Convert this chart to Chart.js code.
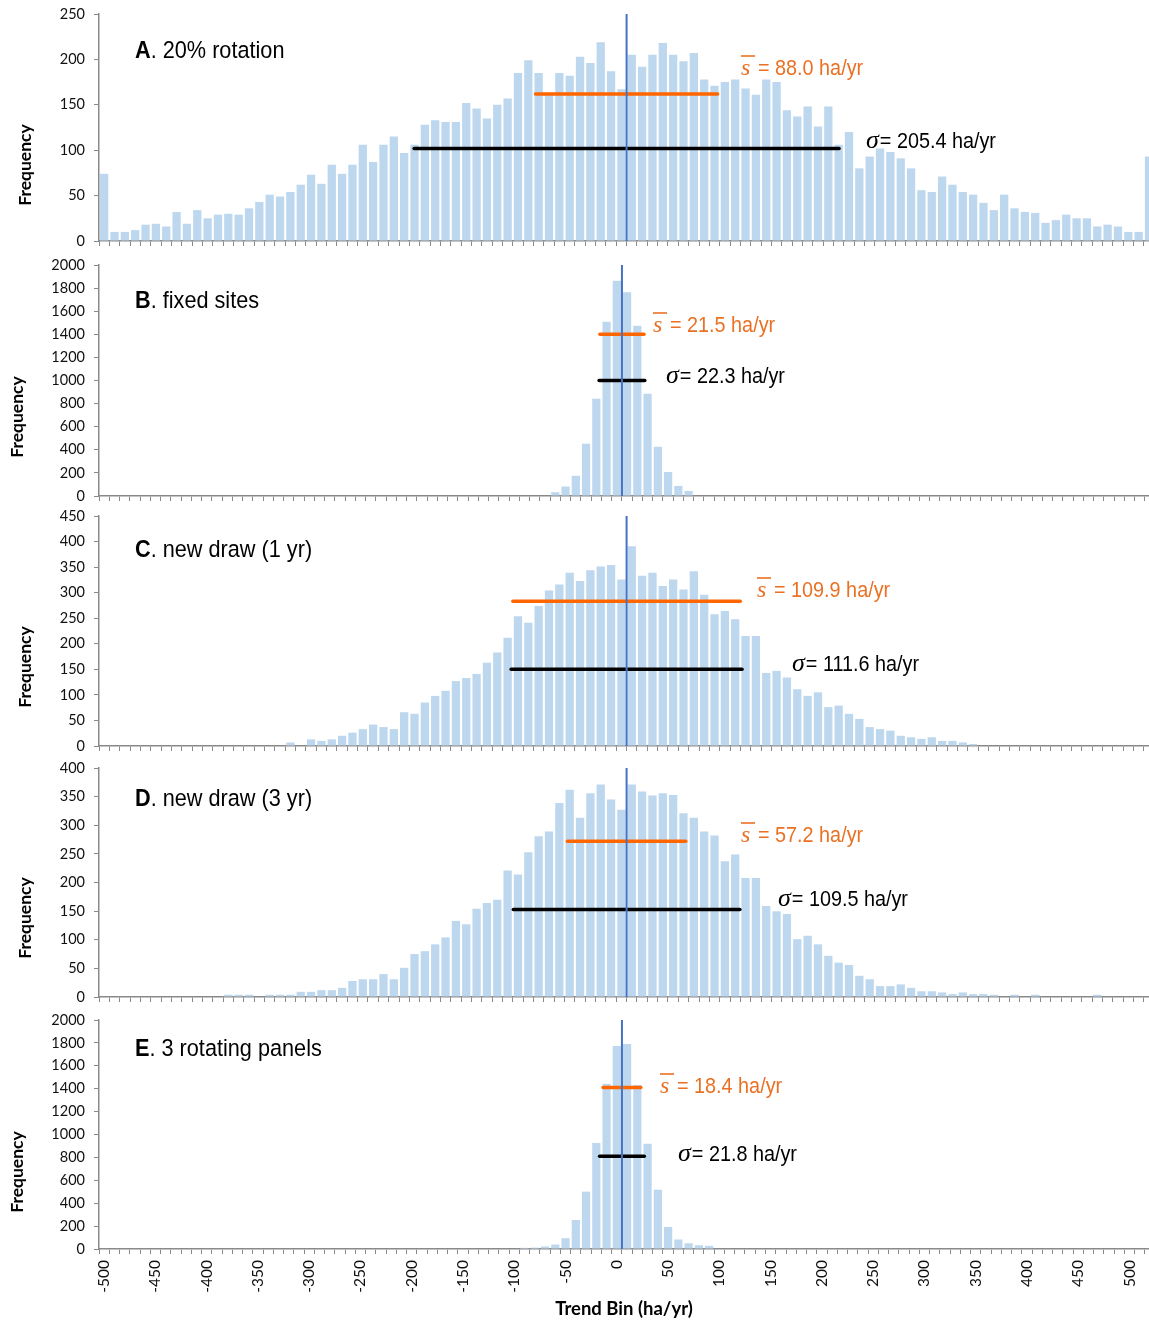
<!DOCTYPE html>
<html>
<head>
<meta charset="utf-8">
<title>Trend bin histograms</title>
<script src="https://cdn.jsdelivr.net/npm/chart.js@4.4.1/dist/chart.umd.min.js"></script>
<style>
  html, body { margin: 0; padding: 0; background: #fff; overflow: hidden; }
  body { position: relative; width: 1149px; height: 1321px; }
  .panel { position: absolute; left: 0; }
  .panel canvas { display: block; }
</style>
</head>
<body>
<script>
// upper limit of each 10 ha/yr trend bin
const binLimits = [
  -500, -490, -480, -470, -460, -450, -440, -430, -420, -410,
  -400, -390, -380, -370, -360, -350, -340, -330, -320, -310,
  -300, -290, -280, -270, -260, -250, -240, -230, -220, -210,
  -200, -190, -180, -170, -160, -150, -140, -130, -120, -110,
  -100, -90, -80, -70, -60, -50, -40, -30, -20, -10,
  0, 10, 20, 30, 40, 50, 60, 70, 80, 90,
  100, 110, 120, 130, 140, 150, 160, 170, 180, 190,
  200, 210, 220, 230, 240, 250, 260, 270, 280, 290,
  300, 310, 320, 330, 340, 350, 360, 370, 380, 390,
  400, 410, 420, 430, 440, 450, 460, 470, 480, 490,
  500, 510
];

// A. 20% rotation
const freqRotation = [
  74, 10, 10, 12, 18, 19, 16, 32, 19, 34,
  25, 29, 30, 29, 36, 43, 51, 49, 54, 62,
  73, 63, 84, 74, 84, 106, 87, 106, 115, 97,
  106, 128, 133, 131, 131, 152, 146, 135, 150, 157,
  185, 199, 185, 162, 185, 182, 203, 196, 219, 187,
  167, 205, 192, 205, 218, 205, 198, 207, 178, 171,
  175, 178, 168, 161, 178, 175, 144, 137, 148, 126,
  148, 106, 120, 80, 93, 102, 98, 91, 80, 56,
  54, 71, 62, 54, 51, 42, 34, 51, 36, 32,
  31, 20, 23, 29, 25, 25, 16, 18, 16, 10,
  10, 93
];

// B. fixed sites
const freqFixed = [
  0, 0, 0, 0, 0, 0, 0, 0, 0, 0,
  0, 0, 0, 0, 0, 0, 0, 0, 0, 0,
  0, 0, 0, 0, 0, 0, 0, 0, 0, 0,
  0, 0, 0, 0, 0, 0, 0, 0, 0, 0,
  0, 0, 0, 0, 33, 82, 175, 453, 841, 1508,
  1863, 1765, 1475, 885, 426, 208, 87, 44, 0, 0,
  0, 0, 0, 0, 0, 0, 0, 0, 0, 0,
  0, 0, 0, 0, 0, 0, 0, 0, 0, 0,
  0, 0, 0, 0, 0, 0, 0, 0, 0, 0,
  0, 0, 0, 0, 0, 0, 0, 0, 0, 0,
  0, 0
];

// C. new draw (1 yr)
const freqNew1 = [
  0, 0, 0, 0, 0, 0, 0, 0, 0, 0,
  0, 0, 0, 0, 0, 0, 0, 0, 7, 0,
  13, 10, 13, 20, 26, 33, 42, 37, 33, 66,
  63, 85, 98, 108, 127, 133, 141, 163, 183, 212,
  254, 241, 274, 304, 316, 339, 323, 344, 351, 354,
  326, 391, 333, 339, 313, 326, 306, 342, 296, 258,
  264, 248, 215, 215, 143, 147, 134, 111, 98, 105,
  76, 79, 63, 53, 37, 33, 30, 20, 17, 14,
  17, 10, 10, 7, 4, 0, 0, 0, 0, 0,
  0, 0, 0, 0, 0, 0, 0, 0, 0, 0,
  0, 0
];

// D. new draw (3 yr)
const freqNew3 = [
  0, 0, 0, 0, 0, 0, 0, 0, 0, 0,
  0, 0, 4, 4, 4, 0, 4, 4, 4, 9,
  9, 12, 12, 16, 28, 31, 31, 40, 31, 51,
  75, 80, 92, 104, 133, 127, 154, 164, 170, 221,
  214, 253, 281, 289, 339, 362, 313, 356, 371, 345,
  327, 371, 359, 352, 356, 353, 321, 313, 289, 282,
  237, 249, 208, 208, 159, 150, 145, 101, 107, 92,
  72, 60, 56, 37, 31, 19, 19, 22, 16, 10,
  10, 8, 5, 8, 5, 5, 4, 0, 4, 0,
  4, 0, 0, 0, 0, 0, 4, 0, 0, 0,
  0, 0
];

// E. 3 rotating panels
const freqPanels = [
  0, 0, 0, 0, 0, 0, 0, 0, 0, 0,
  0, 0, 0, 0, 0, 0, 0, 0, 0, 0,
  0, 0, 0, 0, 0, 0, 0, 0, 0, 0,
  0, 0, 0, 0, 0, 0, 0, 0, 0, 0,
  0, 10, 12, 22, 39, 94, 253, 501, 926, 1444,
  1774, 1791, 1433, 920, 518, 193, 83, 50, 33, 28,
  0, 0, 0, 0, 0, 0, 0, 0, 0, 0,
  0, 0, 0, 0, 0, 0, 0, 0, 0, 0,
  0, 0, 0, 0, 0, 0, 0, 0, 0, 0,
  0, 0, 0, 0, 0, 0, 0, 0, 0, 0,
  0, 0
];

const panelLetters = ['A', 'B', 'C', 'D', 'E'];
const panelCaptions = ['20% rotation', 'fixed sites', 'new draw (1 yr)', 'new draw (3 yr)', '3 rotating panels'];
const panelSeries = [freqRotation, freqFixed, freqNew1, freqNew3, freqPanels];

// mean sampling error (s-bar) and standard deviation, ha/yr
const meanError = [88.0, 21.5, 109.9, 57.2, 18.4];
const sigmaValues = [205.4, 22.3, 111.6, 109.5, 21.8];
// frequency level at which each span is drawn
const meanLevel = [162, 1400, 283, 272, 1410];
const sigmaLevel = [102, 1000, 150, 153, 810];

const yMaxValues = [250, 2000, 450, 400, 2000];
const yStepValues = [50, 200, 50, 50, 200];

// page geometry for each panel
const layout = [
  { plotTop: 14,   plotBottom: 241,  xMax: 505, titleY: 49,   meanX: 741, meanY: 67,   sigmaX: 866, sigmaY: 139.5, freqX: 25, freqY: 165 },
  { plotTop: 265,  plotBottom: 496,  xMax: 514, titleY: 299,  meanX: 653, meanY: 324,  sigmaX: 666, sigmaY: 375,   freqX: 17, freqY: 417 },
  { plotTop: 516,  plotBottom: 746,  xMax: 505, titleY: 548,  meanX: 757, meanY: 589,  sigmaX: 792, sigmaY: 663,   freqX: 25, freqY: 667 },
  { plotTop: 768,  plotBottom: 997,  xMax: 505, titleY: 797,  meanX: 741, meanY: 834,  sigmaX: 778, sigmaY: 898,   freqX: 25, freqY: 918 },
  { plotTop: 1020, plotBottom: 1249, xMax: 514, titleY: 1047, meanX: 660, meanY: 1085, sigmaX: 678, sigmaY: 1153,  freqX: 17, freqY: 1172 }
];

const PAGE_W = 1149, PAGE_H = 1321;
const BAR_COLOR = '#BDD7EE';
const ZERO_COLOR = '#4472C4';
const MEAN_COLOR = '#FF6600';
const MEAN_TEXT = '#EA7124';
const AXIS_COLOR = '#898989';
const NARROW = '"Liberation Sans", Arial, sans-serif';
const SERIF = '"Liberation Serif", "Times New Roman", serif';

Chart.defaults.font.family = 'Lato, "Open Sans", sans-serif';
Chart.defaults.color = '#111';

// sans text squeezed horizontally, like a narrow face
function drawNarrow(ctx, parts, x, y, size, sx, color) {
  ctx.save();
  ctx.translate(x, y);
  ctx.scale(sx, 1);
  ctx.fillStyle = color;
  ctx.textAlign = 'left';
  ctx.textBaseline = 'alphabetic';
  let cx = 0;
  parts.forEach(p => {
    ctx.font = (p.bold ? 'bold ' : '') + size + 'px ' + NARROW;
    ctx.fillText(p.text, cx, 0);
    cx += ctx.measureText(p.text).width;
  });
  ctx.restore();
}

function drawStat(ctx, symbol, value, x, yMid, color, overline) {
  const base = yMid + 8;
  ctx.save();
  ctx.fillStyle = color;
  ctx.strokeStyle = color;
  ctx.font = 'italic ' + (overline ? 24 : 26) + 'px ' + SERIF;
  ctx.textAlign = 'left';
  ctx.textBaseline = 'alphabetic';
  ctx.fillText(symbol, x, base);
  const w = ctx.measureText(symbol).width;
  if (overline) {
    ctx.lineWidth = 1.6;
    ctx.beginPath();
    ctx.moveTo(x, base - 19);
    ctx.lineTo(x + 14, base - 19);
    ctx.stroke();
  }
  ctx.restore();
  if (overline) {
    drawNarrow(ctx, [{ text: '= ' + value.toFixed(1) + ' ha/yr' }], x + 17, base, 22, 0.9, color);
  } else {
    drawNarrow(ctx, [{ text: '= ' + value.toFixed(1) + ' ha/yr' }], x + w + 1, base, 22, 0.9, color);
  }
}

const panelText = {
  id: 'panelText',
  afterDraw(chart, args, o) {
    const ctx = chart.ctx;
    const t = o.canvasTop;
    ctx.save();
    ctx.translate(o.freqX, o.freqY - t);
    ctx.rotate(-Math.PI / 2);
    ctx.font = 'bold 17.5px Lato, sans-serif';
    ctx.fillStyle = '#000';
    ctx.textAlign = 'center';
    ctx.textBaseline = 'middle';
    ctx.fillText('Frequency', 0, 0);
    ctx.restore();

    drawNarrow(ctx, [{ text: o.letter, bold: true }, { text: '. ' + o.caption }], 135, o.titleY - t + 9, 24.5, 0.885, '#000');
    drawStat(ctx, 's', o.mean, o.meanX, o.meanY - t, MEAN_TEXT, true);
    drawStat(ctx, '\u03C3', o.sigma, o.sigmaX, o.sigmaY - t, '#000', false);
  }
};

const binCenters = binLimits.map(b => b - 5);

layout.forEach((g, i) => {
  const last = i === layout.length - 1;
  const canvasTop = g.plotTop - 14;
  const xAxisH = last ? PAGE_H - g.plotBottom : 12;
  const canvasH = g.plotBottom - canvasTop + xAxisH;

  const div = document.createElement('div');
  div.className = 'panel';
  div.style.top = canvasTop + 'px';
  const canvas = document.createElement('canvas');
  canvas.width = PAGE_W;
  canvas.height = canvasH;
  div.appendChild(canvas);
  document.body.appendChild(div);

  const series = panelSeries[i];
  const yMax = yMaxValues[i];

  new Chart(canvas.getContext('2d'), {
    type: 'bar',
    data: {
      datasets: [
        {
          type: 'line',
          data: [{ x: 0, y: 0 }, { x: 0, y: yMax }],
          borderColor: ZERO_COLOR,
          borderWidth: 2,
          pointRadius: 0,
          order: 0
        },
        {
          type: 'line',
          data: [{ x: -meanError[i], y: meanLevel[i] }, { x: meanError[i], y: meanLevel[i] }],
          borderColor: MEAN_COLOR,
          borderWidth: 3.5,
          borderCapStyle: 'round',
          pointRadius: 0,
          order: 1
        },
        {
          type: 'line',
          data: [{ x: -sigmaValues[i], y: sigmaLevel[i] }, { x: sigmaValues[i], y: sigmaLevel[i] }],
          borderColor: '#000',
          borderWidth: 3.5,
          borderCapStyle: 'round',
          pointRadius: 0,
          order: 1
        },
        {
          data: binCenters.map((c, k) => ({ x: c, y: series[k] })),
          backgroundColor: BAR_COLOR,
          barPercentage: 0.8,
          categoryPercentage: 1.0,
          order: 2
        }
      ]
    },
    options: {
      responsive: false,
      animation: false,
      events: [],
      layout: { padding: { top: 14, left: 0, right: 0, bottom: 0 } },
      plugins: {
        legend: { display: false },
        tooltip: { enabled: false },
        panelText: {
          canvasTop: canvasTop,
          letter: panelLetters[i],
          caption: panelCaptions[i],
          mean: meanError[i],
          sigma: sigmaValues[i],
          meanX: g.meanX, meanY: g.meanY,
          sigmaX: g.sigmaX, sigmaY: g.sigmaY,
          freqX: g.freqX, freqY: g.freqY,
          titleY: g.titleY
        }
      },
      scales: {
        x: {
          type: 'linear',
          min: -510,
          max: g.xMax,
          bounds: 'data',
          offset: false,
          grid: {
            offset: true,
            drawOnChartArea: false,
            drawTicks: true,
            tickLength: 5,
            color: AXIS_COLOR,
            lineWidth: 1
          },
          border: { display: true, color: AXIS_COLOR, width: 1.5 },
          afterBuildTicks: scale => {
            scale.ticks = binCenters.filter(v => v <= scale.max).map(v => ({ value: v }));
          },
          afterFit: scale => {
            scale.height = xAxisH;
            scale.paddingLeft = 0;
            scale.paddingRight = 0;
          },
          ticks: {
            display: last,
            autoSkip: false,
            minRotation: 90,
            maxRotation: 90,
            padding: 6,
            font: { size: 15.5 },
            color: '#111',
            callback: v => ((v + 5) % 50 === 0 ? String(v + 5) : '')
          },
          title: {
            display: last,
            text: 'Trend Bin (ha/yr)',
            font: { size: 18.5, weight: 'bold' },
            color: '#000',
            padding: { top: 0, bottom: 1 }
          }
        },
        y: {
          min: 0,
          max: yMax,
          grid: {
            drawOnChartArea: false,
            drawTicks: true,
            tickLength: 5,
            color: AXIS_COLOR,
            lineWidth: 1
          },
          border: { display: true, color: AXIS_COLOR, width: 1.5 },
          ticks: {
            stepSize: yStepValues[i],
            padding: 9,
            font: { size: 14.5 },
            color: '#111',
            callback: v => String(v)
          },
          afterFit: scale => {
            scale.width = 99;
            scale.paddingTop = 0;
            scale.paddingBottom = 0;
          }
        }
      }
    },
    plugins: [panelText]
  });
});
</script>
</body>
</html>
